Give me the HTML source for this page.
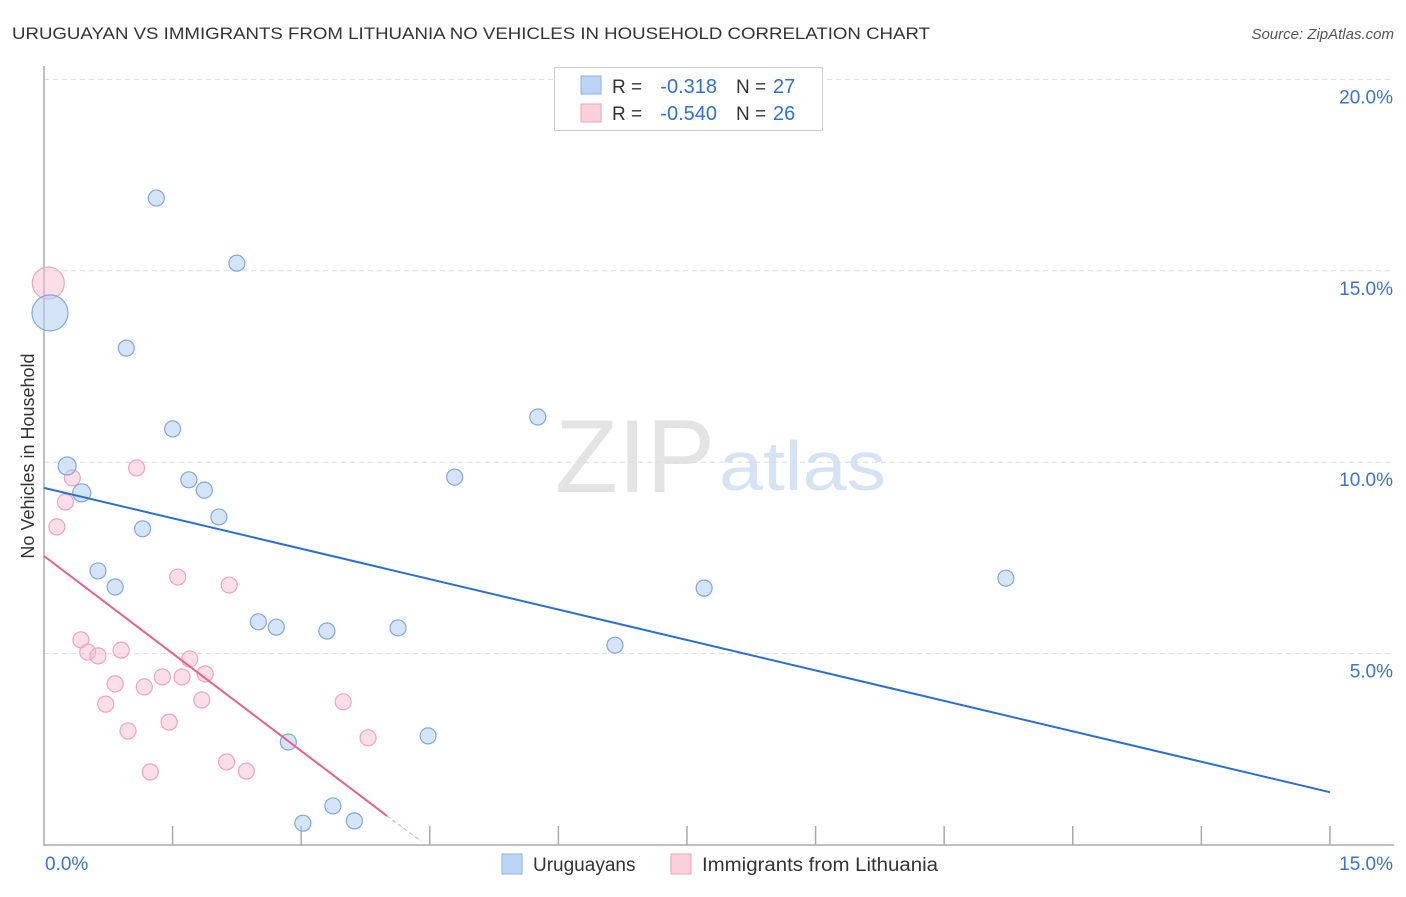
<!DOCTYPE html>
<html><head><meta charset="utf-8"><style>
body{margin:0;background:#fff;font-family:"Liberation Sans",sans-serif;}
svg text{font-family:"Liberation Sans",sans-serif;}
</style></head><body>
<svg width="1406" height="892">
<text x="12" y="39" font-size="17" fill="#333" textLength="918" lengthAdjust="spacingAndGlyphs">URUGUAYAN VS IMMIGRANTS FROM LITHUANIA NO VEHICLES IN HOUSEHOLD CORRELATION CHART</text>
<text x="1394" y="39" font-size="15" fill="#555" font-style="italic" text-anchor="end">Source: ZipAtlas.com</text>
<text x="555" y="492" font-size="104" fill="#e4e4e4" textLength="160" lengthAdjust="spacingAndGlyphs" font-family="Liberation Serif">ZIP</text>
<text x="719" y="490" font-size="70" fill="#d6e3f5" textLength="167" lengthAdjust="spacingAndGlyphs">atlas</text>
<g id="grid"></g><g id="axes"></g><g id="marks"></g>
<text transform="translate(34,456) rotate(-90)" font-size="18" fill="#333" text-anchor="middle">No Vehicles in Household</text>
<g>
<rect x="554.5" y="67.5" width="268" height="63" fill="#fff" stroke="#ccc"/>
<rect x="581" y="76" width="20" height="18" fill="#bcd4f5" stroke="#8ab0e6"/>
<rect x="581" y="104" width="20" height="18" fill="#fbd0dc" stroke="#f0a0b8"/>
<text x="612" y="93" font-size="19" fill="#333">R =</text>
<text x="717" y="93" font-size="20" fill="#2f6fd6" text-anchor="end">-0.318</text>
<text x="736" y="93" font-size="19" fill="#333">N =</text>
<text x="773" y="93" font-size="20" fill="#2f6fd6">27</text>
<text x="612" y="120" font-size="19" fill="#333">R =</text>
<text x="717" y="120" font-size="20" fill="#2f6fd6" text-anchor="end">-0.540</text>
<text x="736" y="120" font-size="19" fill="#333">N =</text>
<text x="773" y="120" font-size="20" fill="#2f6fd6">26</text>
</g>
<g>
<rect x="502" y="854" width="20" height="20" fill="#bcd4f5" stroke="#8ab0e6"/>
<text x="533" y="871" font-size="19" fill="#333">Uruguayans</text>
<rect x="671" y="854" width="20" height="20" fill="#fbd0dc" stroke="#f0a0b8"/>
<text x="702" y="871" font-size="19" fill="#333" textLength="236" lengthAdjust="spacingAndGlyphs">Immigrants from Lithuania</text>
</g>
</svg>
<script>
const yTicks=[5,10,15,20];
const yTickLabels=["5.0%","10.0%","15.0%","20.0%"];
const xTickVals=[0,1.5,3,4.5,6,7.5,9,10.5,12,13.5,15];
const blueX=[1.31,2.25,0.07,0.96,5.76,1.50,0.27,1.69,0.44,1.87,4.79,2.04,1.15,0.63,0.83,11.22,7.70,2.50,2.71,3.30,4.13,6.66,2.85,4.48,3.37,3.02,3.62];
const blueY=[16.90,15.20,13.90,12.98,11.18,10.87,9.90,9.54,9.20,9.27,9.61,8.57,8.26,7.16,6.74,6.97,6.71,5.83,5.69,5.59,5.67,5.22,2.69,2.85,1.02,0.57,0.63];
const blueR=[8,8,18,8,8,8,9,8,9,8,8,8,8,8,8,8,8,8,8,8,8,8,8,8,8,8,8];
const pinkX=[0.05,1.08,0.33,0.25,0.15,1.56,2.16,0.43,0.51,0.63,0.90,1.70,1.88,0.83,1.17,1.38,1.61,0.72,1.84,3.49,1.46,0.98,3.78,2.13,2.36,1.24];
const pinkY=[14.68,9.85,9.59,8.96,8.31,7.00,6.79,5.36,5.04,4.94,5.09,4.86,4.47,4.21,4.13,4.39,4.39,3.68,3.79,3.74,3.21,2.98,2.80,2.17,1.93,1.91];
const pinkR=[16,8,8,8,8,8,8,8,8,8,8,8,8,8,8,8,8,8,8,8,8,8,8,8,8,8];
const blueTrend=[[0,9.33],[15,1.38]];
const pinkTrend=[[0,7.55],[4.0,0.76]];
const pinkTrendDash=[[4.0,0.76],[4.4,0.1]];
const NS="http://www.w3.org/2000/svg";
const sx=v=>44+v*85.73, sy=v=>845-v*38.28;
function mk(tag,attrs,parent){const e=document.createElementNS(NS,tag);for(const k in attrs)e.setAttribute(k,attrs[k]);document.getElementById(parent).appendChild(e);return e;}
yTicks.forEach((t,i)=>{
 const g=mk('line',{x1:44,x2:1394,y1:sy(t),y2:sy(t),stroke:'#ddd','stroke-dasharray':'5,4'},'grid');
 
 
 const l=mk('text',{x:1393,y:sy(t)+24,'font-size':19,fill:'#3a72d0','text-anchor':'end'},'grid');
 l.textContent=yTickLabels[i];
 
 
});
let a=mk('line',{x1:44,x2:44,y1:66,y2:846,stroke:'#aaa','stroke-width':1.5},'axes');


a=mk('line',{x1:44,x2:1394,y1:845,y2:845,stroke:'#aaa','stroke-width':1.5},'axes');


xTickVals.forEach(v=>{if(v===0)return;const t=mk('line',{x1:sx(v),x2:sx(v),y1:826,y2:845,stroke:'#aaa','stroke-width':1.5},'axes');
 
 });
let xl=mk('text',{x:45,y:870,'font-size':19,fill:'#3a72d0'},'axes');xl.textContent="0.0%";


xl=mk('text',{x:1393,y:870,'font-size':19,fill:'#3a72d0','text-anchor':'end'},'axes');xl.textContent="15.0%";


pinkX.forEach((x,i)=>{const c=mk('circle',{cx:sx(x),cy:sy(pinkY[i]),r:pinkR[i],fill:'rgba(248,190,208,0.5)',stroke:'#efa3bb','stroke-width':1.2},'marks');
 
 });
blueX.forEach((x,i)=>{const c=mk('circle',{cx:sx(x),cy:sy(blueY[i]),r:blueR[i],fill:'rgba(180,205,242,0.55)',stroke:'#7ea7e3','stroke-width':1.2},'marks');
 
 });
let ln=mk('line',{x1:sx(blueTrend[0][0]),y1:sy(blueTrend[0][1]),x2:sx(blueTrend[1][0]),y2:sy(blueTrend[1][1]),stroke:'#2a6fd4','stroke-width':2},'marks');


ln=mk('line',{x1:sx(pinkTrend[0][0]),y1:sy(pinkTrend[0][1]),x2:sx(pinkTrend[1][0]),y2:sy(pinkTrend[1][1]),stroke:'#e8608a','stroke-width':2},'marks');


ln=mk('line',{x1:sx(pinkTrendDash[0][0]),y1:sy(pinkTrendDash[0][1]),x2:sx(pinkTrendDash[1][0]),y2:sy(pinkTrendDash[1][1]),stroke:'#e8a0b5','stroke-width':1,'stroke-dasharray':'4,3'},'marks');


</script>
</body></html>
